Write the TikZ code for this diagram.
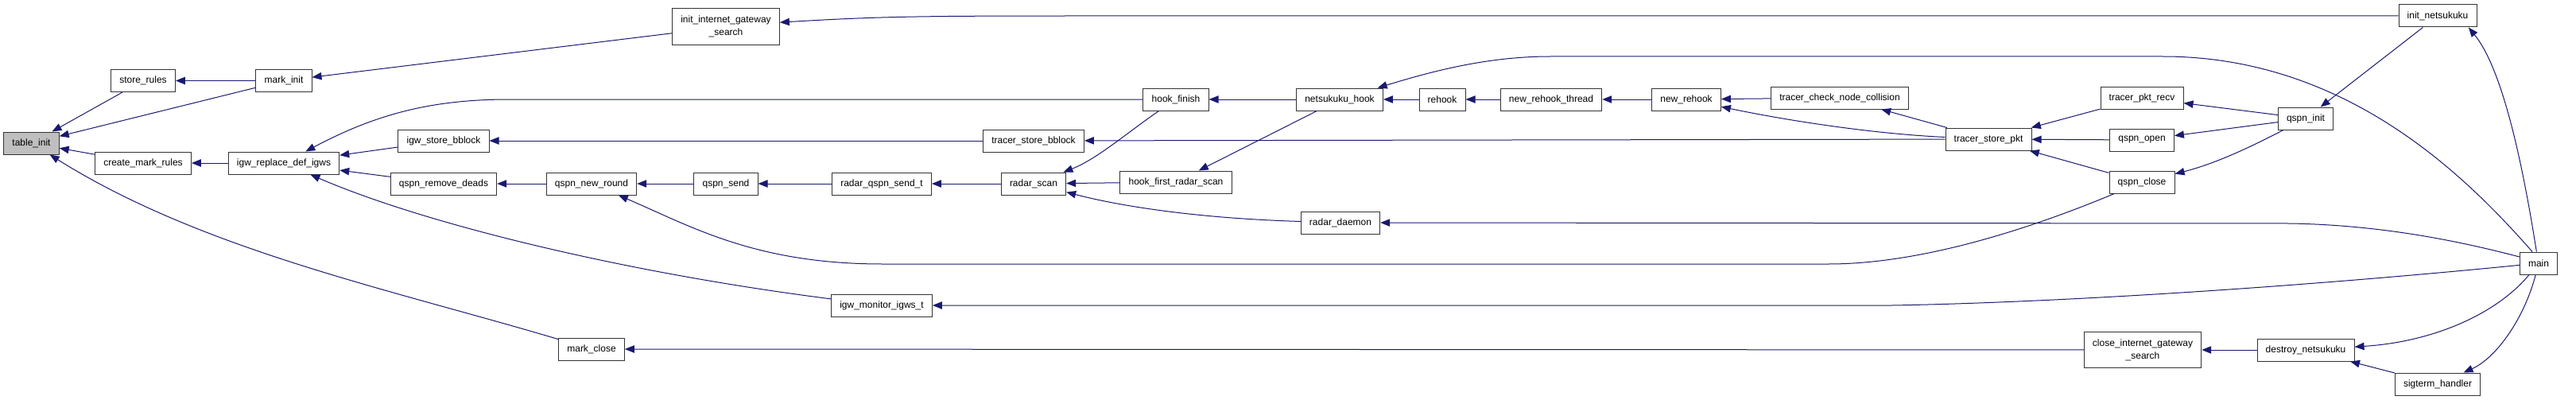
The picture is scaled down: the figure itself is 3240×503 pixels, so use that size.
\documentclass[tikz,border=0pt]{standalone}
\usepackage{fontspec}
\setmainfont{Liberation Sans}
\usepackage{tikz}
\usetikzlibrary{arrows.meta}
\definecolor{edgeblue}{HTML}{191970}

\begin{document}
\begin{tikzpicture}[x=0.75pt, y=0.75pt,
    fn/.style={rectangle, draw=black!80, line width=0.75pt, fill=white, minimum height=21pt, inner xsep=8pt, font=\fontsize{9}{12}\selectfont},
    fntwo/.style={fn, minimum height=34pt, align=center},
    root/.style={fn, fill=gray!50},
    call/.style={{Triangle[length=9pt,width=7pt]}-, edgeblue, line width=0.75pt}
]
    \useasboundingbox (0,0) rectangle (3240,-503);

    % functions
    \node[root] (tableinit) at (39.5,-180) {table\_init};
    \node[fn] (storerules) at (180,-101.5) {store\_rules};
    \node[fn] (markinit) at (357,-101.5) {mark\_init};
    \node[fn] (createmark) at (180,-205) {create\_mark\_rules};
    \node[fn] (igwreplace) at (357,-205) {igw\_replace\_def\_igws};
    \node[fn] (igwstore) at (558,-177) {igw\_store\_bblock};
    \node[fn] (qremove) at (558,-231) {qspn\_remove\_deads};
    \node[fntwo] (initigs) at (913,-33.5) {init\_internet\_gateway\\\_search};
    \node[fn] (qnewround) at (744,-231) {qspn\_new\_round};
    \node[fn] (qsend) at (913,-231) {qspn\_send};
    \node[fn] (radarqsend) at (1109,-231) {radar\_qspn\_send\_t};
    \node[fn] (igwmonitor) at (1109,-384) {igw\_monitor\_igws\_t};
    \node[fn] (markclose) at (744,-439) {mark\_close};
    \node[fn] (hookfinish) at (1479,-125) {hook\_finish};
    \node[fn] (tracerbblock) at (1300,-177) {tracer\_store\_bblock};
    \node[fn] (radarscan) at (1300,-231) {radar\_scan};
    \node[fn] (hookfirst) at (1479,-229) {hook\_first\_radar\_scan};
    \node[fn] (nhook) at (1685,-125) {netsukuku\_hook};
    \node[fn] (rehook) at (1814,-125) {rehook};
    \node[fn] (rehookthread) at (1951,-125) {new\_rehook\_thread};
    \node[fn] (newrehook) at (2121,-125) {new\_rehook};
    \node[fn] (radardaemon) at (1686,-280) {radar\_daemon};
    \node[fn] (collision) at (2314,-123) {tracer\_check\_node\_collision};
    \node[fn] (storepkt) at (2501,-175) {tracer\_store\_pkt};
    \node[fn] (pktrecv) at (2694,-123) {tracer\_pkt\_recv};
    \node[fn] (qopen) at (2694,-176) {qspn\_open};
    \node[fn] (qclose) at (2694,-229) {qspn\_close};
    \node[fntwo] (closeigs) at (2695,-440) {close\_internet\_gateway\\\_search};
    \node[fn] (initnk) at (3066,-20) {init\_netsukuku};
    \node[fn] (qinit) at (2900,-149) {qspn\_init};
    \node[fn] (main) at (3193,-331) {main};
    \node[fn] (destroynk) at (2900,-440) {destroy\_netsukuku};
    \node[fn] (sigterm) at (3066,-483) {sigterm\_handler};

    % calls, tip at the callee
    \draw[call] (tableinit) -- (storerules);
    \draw[call] (tableinit) -- (markinit);
    \draw[call] (storerules) -- (markinit);
    \draw[call] (tableinit) -- (createmark);
    \draw[call] (tableinit) .. controls (255,-315) and (492,-364) .. (markclose);
    \draw[call] (createmark) -- (igwreplace);
    \draw[call] (markinit) -- (initigs);
    \draw[call] ([yshift=4pt]initigs.east) .. controls (1100,-21) and (1150,-20) .. (1350,-20) -- (initnk);
    \draw[call] (igwreplace) .. controls (470,-145) and (540,-125) .. (640,-125) -- (hookfinish);
    \draw[call] (igwreplace) -- (igwstore);
    \draw[call] (igwreplace) -- (qremove);
    \draw[call] (igwreplace) .. controls (530,-280) and (779,-342) .. (igwmonitor);
    \draw[call] (igwstore) -- (tracerbblock);
    \draw[call] (qremove) -- (qnewround);
    \draw[call] (qnewround) -- (qsend);
    \draw[call] (qnewround) .. controls (870,-285) and (950,-332) .. (1110,-332) -- (2300,-332)
        .. controls (2420,-332) and (2560,-285) .. (qclose);
    \draw[call] (qsend) -- (radarqsend);
    \draw[call] (radarqsend) -- (radarscan);
    \draw[call] (radarscan) .. controls (1380,-200) and (1420,-165) .. (hookfinish);
    \draw[call] (radarscan) -- (hookfirst);
    \draw[call] (radarscan) .. controls (1420,-262) and (1520,-275) .. (radardaemon);
    \draw[call] (hookfinish) -- (nhook);
    \draw[call] (hookfirst) -- (nhook);
    \draw[call] (tracerbblock) -- (storepkt);
    \draw[call] (nhook) -- (rehook);
    \draw[call] (nhook) .. controls (1800,-90) and (1870,-71) .. (1950,-71) -- (2720,-71)
        .. controls (2950,-71) and (3100,-220) .. ([xshift=-6pt]main.north);
    \draw[call] (rehook) -- (rehookthread);
    \draw[call] (rehookthread) -- (newrehook);
    \draw[call] (newrehook) -- (collision);
    \draw[call] (newrehook) .. controls (2240,-150) and (2350,-168) .. (storepkt);
    \draw[call] (collision) -- (storepkt);
    \draw[call] (storepkt) -- (pktrecv);
    \draw[call] (storepkt) -- (qopen);
    \draw[call] (storepkt) -- (qclose);
    \draw[call] (pktrecv) -- (qinit);
    \draw[call] (qopen) -- (qinit);
    \draw[call] (qclose) .. controls (2790,-205) and (2840,-180) .. (qinit);
    \draw[call] (qinit) -- (initnk);
    \draw[call] ([xshift=-8pt]initnk.south east) .. controls (3150,-90) and (3175,-220) .. ([xshift=-2pt]main.north);
    \draw[call] (radardaemon) -- (2880,-281) .. controls (3000,-283) and (3100,-305) .. ([yshift=6pt]main.west);
    \draw[call] (igwmonitor) -- (2380,-384) .. controls (2600,-380) and (2900,-360) .. (main);
    \draw[call] (markclose) -- (closeigs);
    \draw[call] (closeigs) -- (destroynk);
    \draw[call] (destroynk) .. controls (3060,-430) and (3140,-395) .. (main);
    \draw[call] (sigterm) .. controls (3140,-450) and (3175,-400) .. (main);
    \draw[call] (destroynk) -- (sigterm);
\end{tikzpicture}
\end{document}
